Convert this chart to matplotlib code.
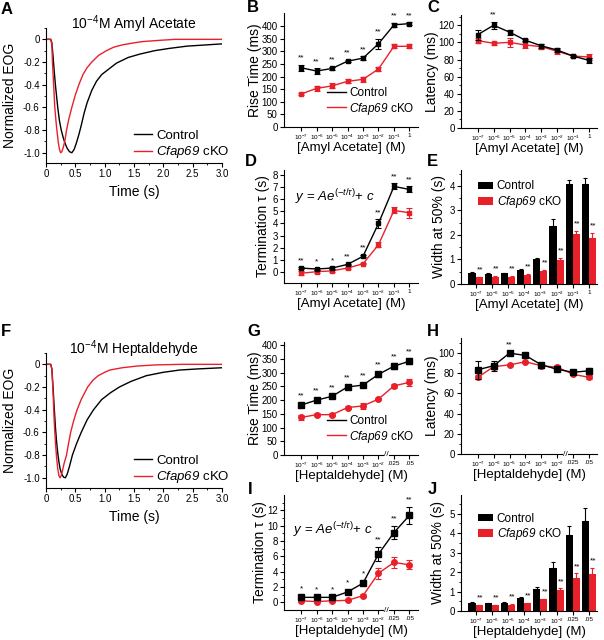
import numpy as np
import matplotlib
matplotlib.use('Agg')
import matplotlib.pyplot as plt
from matplotlib.lines import Line2D

plt.rcParams['font.family'] = ['Liberation Sans', 'DejaVu Sans']
plt.rcParams['mathtext.fontset'] = 'custom'
plt.rcParams['mathtext.rm'] = 'Liberation Sans'
plt.rcParams['mathtext.it'] = 'Liberation Sans:italic'
plt.rcParams['mathtext.sf'] = 'Liberation Sans:italic'
plt.rcParams['axes.unicode_minus'] = False
plt.rcParams['axes.linewidth'] = 0.8

RED = '#e8202a'

##### data #####

# A: EOG traces, 10^-4 M amyl acetate
tA_ctrl = [0, 0.08, 0.10, 0.12, 0.14, 0.16, 0.18, 0.20, 0.23, 0.26, 0.29, 0.32, 0.36, 0.40, 0.44, 0.48,
           0.52, 0.56, 0.60, 0.65, 0.70, 0.78, 0.86, 0.95, 1.05, 1.2, 1.4, 1.6, 1.85, 2.1, 2.4, 2.7, 3.0]
vA_ctrl = [0, 0, -0.03, -0.15, -0.28, -0.40, -0.50, -0.60, -0.72, -0.80, -0.86, -0.91, -0.96, -0.99, -1.0, -0.97,
           -0.91, -0.84, -0.76, -0.65, -0.56, -0.45, -0.37, -0.31, -0.27, -0.21, -0.16, -0.13, -0.10, -0.08, -0.06, -0.05, -0.04]
tA_cko = [0, 0.08, 0.10, 0.11, 0.13, 0.15, 0.17, 0.19, 0.21, 0.23, 0.25, 0.27, 0.29, 0.32, 0.35, 0.39,
          0.44, 0.50, 0.56, 0.63, 0.70, 0.78, 0.9, 1.03, 1.15, 1.29, 1.45, 1.64, 1.9, 2.2, 2.6, 3.0]
vA_cko = [0, 0, -0.05, -0.2, -0.4, -0.6, -0.72, -0.82, -0.91, -0.97, -1.0, -0.99, -0.96, -0.9, -0.8, -0.7,
          -0.6, -0.49, -0.4, -0.31, -0.25, -0.2, -0.14, -0.1, -0.07, -0.05, -0.035, -0.02, -0.01, 0, 0, 0]

# F: EOG traces, 10^-4 M heptaldehyde
tF_ctrl = [0, 0.08, 0.10, 0.12, 0.14, 0.16, 0.18, 0.20, 0.22, 0.24, 0.27, 0.30, 0.33, 0.36, 0.40, 0.45,
           0.52, 0.60, 0.70, 0.81, 0.95, 1.1, 1.25, 1.45, 1.71, 2.0, 2.28, 2.6, 3.0]
vF_ctrl = [0, 0, -0.04, -0.2, -0.38, -0.55, -0.68, -0.78, -0.86, -0.92, -0.97, -0.995, -1.0, -0.97, -0.9, -0.8,
           -0.7, -0.6, -0.49, -0.4, -0.31, -0.25, -0.2, -0.15, -0.1, -0.07, -0.05, -0.04, -0.03]
tF_cko = [0, 0.08, 0.10, 0.12, 0.14, 0.16, 0.18, 0.20, 0.22, 0.24, 0.26, 0.28, 0.31, 0.35, 0.38, 0.42,
          0.47, 0.53, 0.6, 0.71, 0.8, 0.89, 1.0, 1.09, 1.3, 1.55, 1.87, 2.3, 3.0]
vF_cko = [0, 0, -0.04, -0.25, -0.5, -0.68, -0.82, -0.92, -0.98, -1.0, -0.98, -0.94, -0.87, -0.8, -0.71, -0.6,
          -0.5, -0.4, -0.31, -0.2, -0.14, -0.1, -0.07, -0.05, -0.03, -0.015, -0.005, 0, 0]

amyl_labels = ['10$^{-7}$', '10$^{-6}$', '10$^{-5}$', '10$^{-4}$', '10$^{-3}$', '10$^{-2}$', '10$^{-1}$', '1']
hept_labels = ['10$^{-7}$', '10$^{-6}$', '10$^{-5}$', '10$^{-4}$', '10$^{-3}$', '10$^{-2}$', '.025', '.05']

# B: rise time (ms), amyl acetate
B_ctrl = [235, 222, 232, 261, 273, 330, 405, 410]
B_ctrl_err = [12, 10, 5, 5, 7, 20, 8, 5]
B_cko = [131, 153, 163, 181, 189, 230, 320, 320]
B_cko_err = [5, 10, 10, 8, 10, 6, 8, 8]
B_stars = ['**'] * 8

# C: latency (ms), amyl acetate
C_ctrl = [109, 120, 112, 102.5, 96, 91, 84, 79]
C_ctrl_err = [6, 4, 3, 1, 2, 2, 1, 3]
C_cko = [102, 99, 100, 97, 95, 89.6, 84, 83]
C_cko_err = [3, 2, 5, 3, 3, 3, 1, 3]
C_stars = ['', '**', '', '', '', '', '', '']

# D: termination tau (s), amyl acetate
D_ctrl = [0.33, 0.25, 0.33, 0.63, 1.3, 4.0, 7.05, 6.8]
D_ctrl_err = [0.05, 0.05, 0.05, 0.05, 0.1, 0.35, 0.25, 0.25]
D_cko = [-0.1, 0.03, 0.1, 0.33, 0.68, 2.25, 5.07, 4.88]
D_cko_err = [0.15, 0.1, 0.1, 0.05, 0.05, 0.2, 0.25, 0.4]
D_stars = ['**', '*', '*', '**', '**', '**', '**', '**']

# E: width at 50% (s), amyl acetate
E_ctrl = [0.45, 0.41, 0.43, 0.58, 1.01, 2.38, 4.07, 4.07]
E_ctrl_err = [0.02, 0.02, 0.02, 0.03, 0.05, 0.27, 0.18, 0.25]
E_cko = [0.27, 0.30, 0.30, 0.38, 0.54, 0.99, 2.04, 1.89]
E_cko_err = [0.02, 0.02, 0.02, 0.03, 0.03, 0.07, 0.13, 0.2]
E_stars = ['**'] * 8

# G: rise time (ms), heptaldehyde
G_ctrl = [182, 200, 214, 248, 255, 294, 324, 342]
G_ctrl_err = [8, 8, 5, 8, 8, 10, 10, 10]
G_cko = [137, 147, 147, 173, 179, 204, 252, 265]
G_cko_err = [8, 6, 6, 5, 10, 5, 8, 12]
G_stars = ['**'] * 8

# H: latency (ms), heptaldehyde
H_ctrl = [83.5, 87.5, 100, 97.7, 88.4, 84, 81, 82.5]
H_ctrl_err = [9, 5, 1.5, 1.5, 2, 2, 2, 3]
H_cko = [76, 86.5, 88.4, 91.4, 87.5, 86, 79, 76]
H_cko_err = [2, 2, 1, 1, 2, 2, 1, 2]
H_stars = ['', '', '**', '', '', '', '', '']

# I: termination tau (s), heptaldehyde
I_ctrl = [0.65, 0.65, 0.65, 1.35, 2.5, 6.3, 9.1, 11.35]
I_ctrl_err = [0.15, 0.1, 0.1, 0.3, 0.3, 0.9, 0.9, 1.1]
I_cko = [0.2, 0.1, 0.2, 0.26, 0.87, 3.8, 5.2, 4.9]
I_cko_err = [0.1, 0.1, 0.1, 0.1, 0.2, 0.7, 0.7, 0.6]
I_stars = ['*', '*', '*', '*', '*', '**', '**', '**']

# J: width at 50% (s), heptaldehyde
J_ctrl = [0.43, 0.40, 0.43, 0.67, 1.14, 2.23, 3.9, 4.62]
J_ctrl_err = [0.02, 0.02, 0.02, 0.05, 0.1, 0.27, 0.48, 0.68]
J_cko = [0.30, 0.30, 0.33, 0.40, 0.59, 1.06, 1.71, 1.92]
J_cko_err = [0.03, 0.03, 0.03, 0.03, 0.04, 0.1, 0.22, 0.3]
J_stars = ['**'] * 8

CKO_LABEL = r'$\mathsf{Cfap69}$ cKO'
EQUATION = r'$y$ = $Ae^{(-t/\tau)}$+ $c$'

##### figure #####
W, H = 604, 640
fig = plt.figure(figsize=(W / 100, H / 100), dpi=100)


def box(l, r, t, b):
    return [l / W, 1 - b / H, (r - l) / W, (b - t) / H]


def style(ax):
    ax.spines['top'].set_visible(False)
    ax.spines['right'].set_visible(False)
    ax.tick_params(which='major', direction='out', length=3, width=0.8, labelsize=7, pad=1.5)
    ax.tick_params(which='minor', direction='out', length=1.5, width=0.6)


def letter(x, y, s):
    fig.text(x / W, 1 - y / H, s, fontsize=12, fontweight='bold', ha='left', va='center')


def line_handles():
    return [Line2D([], [], color='k', lw=1), Line2D([], [], color=RED, lw=1)]


def set_xlab(ax, text, px_below):
    # px_below: gap in pixels between the axis line and the label's top
    h = ax.get_position().height * H
    ax.set_xlabel(text, fontsize=9.5)
    ax.xaxis.set_label_coords(0.5, -px_below / h)


def trace_panel(rect, tc, vc, tk, vk, title, ylab_x):
    ax = fig.add_axes(box(*rect))
    style(ax)
    ax.plot(tc, vc, color='k', lw=1)
    ax.plot(tk, vk, color=RED, lw=1)
    ax.set_xlim(0, 3.0)
    ax.set_ylim(-1.09, 0.1)
    ax.set_xticks(np.arange(0, 3.01, 0.5))
    ax.set_xticklabels(['0', '0.5', '1.0', '1.5', '2.0', '2.5', '3.0'])
    ax.set_xticks(np.arange(0.25, 3.0, 0.5), minor=True)
    ax.set_yticks([0, -0.2, -0.4, -0.6, -0.8, -1.0])
    ax.set_yticklabels(['0', '-0.2', '-0.4', '-0.6', '-0.8', '-1.0'])
    ax.set_yticks([0.1, -0.1, -0.3, -0.5, -0.7, -0.9], minor=True)
    ax.set_ylabel('Normalized EOG', fontsize=10)
    ax.yaxis.set_label_coords(ylab_x, 0.5)
    ax.set_xlabel('Time (s)', fontsize=10)
    ax.xaxis.set_label_coords(0.5, -22 / 135)
    ax.text(0.5, 1.03, title, transform=ax.transAxes, ha='center', va='center', fontsize=10)
    ax.legend(line_handles(), ['Control', CKO_LABEL], loc='lower right', bbox_to_anchor=(1.08, -0.03),
              frameon=False, fontsize=9.5, handlelength=1.4, handletextpad=0.3, labelspacing=0.2, borderpad=0)
    return ax


def line_panel(rect, ctrl, cerr, cko, kerr, stars, ylim, yticks, yminor, ylabel, xlabels,
               ylab_x, big=False, brk=False, legend=False, xlim=(-1.1, 7.55)):
    ax = fig.add_axes(box(*rect))
    style(ax)
    x = np.arange(len(xlabels))
    if big:
        mc, mk, ms = 's', 'o', 4
    else:
        mc, mk, ms = 's', 's', 2.5
    ax.errorbar(x, ctrl, yerr=cerr, color='k', marker=mc, ms=ms, lw=1, elinewidth=0.8,
                capsize=2, capthick=0.8, zorder=3)
    ax.errorbar(x, cko, yerr=kerr, color=RED, marker=mk, ms=ms, lw=1, elinewidth=0.8,
                capsize=2, capthick=0.8, zorder=2)
    rng = ylim[1] - ylim[0]
    for xi, s, c, e in zip(x, stars, ctrl, cerr):
        if s:
            ax.text(xi, c + e + 0.06 * rng, s, ha='center', va='center', fontsize=6)
    ax.set_xlim(*xlim)
    ax.set_ylim(*ylim)
    ax.set_xticks(x)
    ax.set_xticklabels(xlabels, fontsize=4.6)
    ax.tick_params(axis='x', pad=1)
    ax.set_yticks(yticks)
    if yminor is not None:
        ax.set_yticks(yminor, minor=True)
    ax.set_ylabel(ylabel, fontsize=10)
    ax.yaxis.set_label_coords(ylab_x, 0.5)
    if brk:
        ax.text(5.5, 0, '//', transform=ax.get_xaxis_transform(), ha='center', va='center',
                fontsize=6, bbox=dict(facecolor='white', edgecolor='none', pad=0))
    if legend:
        ax.legend(line_handles(), ['Control', CKO_LABEL], loc='lower right', bbox_to_anchor=(1.02, 0.04),
                  frameon=False, fontsize=8.5, handlelength=1.6, handletextpad=0.3, labelspacing=0.15,
                  borderpad=0)
    return ax


def bar_panel(rect, ctrl, cerr, cko, kerr, stars, ylim, yticks, yminor, xlabels, ylab_x, leg_y):
    ax = fig.add_axes(box(*rect))
    style(ax)
    x = np.arange(len(xlabels))
    w = 0.44
    ax.bar(x - w / 2, ctrl, w, color='k', label='Control',
           yerr=[np.zeros(len(x)), cerr], error_kw=dict(ecolor='k', elinewidth=0.8, capsize=1.5, capthick=0.8))
    ax.bar(x + w / 2, cko, w, color=RED, label=CKO_LABEL,
           yerr=[np.zeros(len(x)), kerr], error_kw=dict(ecolor=RED, elinewidth=0.8, capsize=1.5, capthick=0.8))
    rng = ylim[1] - ylim[0]
    for xi, s, c, e in zip(x, stars, cko, kerr):
        ax.text(xi + w / 2 + 0.05, c + e + 0.06 * rng, s, ha='center', va='center', fontsize=6)
    ax.set_xlim(-0.9, 7.5)
    ax.set_ylim(*ylim)
    ax.set_xticks(x)
    ax.set_xticklabels(xlabels, fontsize=4.6)
    ax.tick_params(axis='x', pad=1)
    ax.set_yticks(yticks)
    ax.set_yticks(yminor, minor=True)
    ax.set_ylabel('Width at 50% (s)', fontsize=10)
    ax.yaxis.set_label_coords(ylab_x, 0.5)
    ax.legend(loc='upper left', bbox_to_anchor=(0.08, leg_y), frameon=False, fontsize=8.5,
              handlelength=1.3, handleheight=0.6, handletextpad=0.3, labelspacing=0.15, borderpad=0)
    return ax


# ---- Amyl acetate row ----
trace_panel((46, 222, 28, 163), tA_ctrl, vA_ctrl, tA_cko, vA_cko, '10$^{-4}$M Amyl Acetate', -0.165)

axB = line_panel((284, 418, 13, 127), B_ctrl, B_ctrl_err, B_cko, B_cko_err, B_stars,
                 (0, 452), np.arange(0, 401, 50), None, 'Rise Time (ms)', amyl_labels,
                 -0.164, legend=True)
set_xlab(axB, '[Amyl Acetate] (M)', 15)

axC = line_panel((461, 597, 15, 128), C_ctrl, C_ctrl_err, C_cko, C_cko_err, C_stars,
                 (0, 132), np.arange(0, 121, 20), np.arange(10, 131, 20), 'Latency (ms)', amyl_labels,
                 -0.16, xlim=(-1.05, 7.5))
set_xlab(axC, '[Amyl Acetate] (M)', 15)

axD = line_panel((284, 418, 170, 283), D_ctrl, D_ctrl_err, D_cko, D_cko_err, D_stars,
                 (-0.9, 8.4), np.arange(0, 9, 1), None, 'Termination τ (s)', amyl_labels, -0.105)
set_xlab(axD, '[Amyl Acetate] (M)', 15)
axD.text(0.08, 0.76, EQUATION, transform=axD.transAxes, ha='left', va='center', fontsize=9.5)

axE = bar_panel((461, 597, 170, 284), E_ctrl, E_ctrl_err, E_cko, E_cko_err, E_stars,
                (0, 4.65), np.arange(0, 5, 1), np.arange(0.5, 4.6, 1), amyl_labels, -0.11, 0.96)
set_xlab(axE, '[Amyl Acetate] (M)', 15)

# ---- Heptaldehyde row ----
trace_panel((46, 222, 353, 488), tF_ctrl, vF_ctrl, tF_cko, vF_cko, '10$^{-4}$M Heptaldehyde', -0.165)

axG = line_panel((284, 418, 342, 455), G_ctrl, G_ctrl_err, G_cko, G_cko_err, G_stars,
                 (0, 412), np.arange(0, 401, 50), None, 'Rise Time (ms)', hept_labels,
                 -0.164, big=True, brk=True, legend=True)
set_xlab(axG, '[Heptaldehyde] (M)', 15)

axH = line_panel((461, 597, 338, 454), H_ctrl, H_ctrl_err, H_cko, H_cko_err, H_stars,
                 (0, 115), np.arange(0, 101, 20), np.arange(10, 111, 20), 'Latency (ms)', hept_labels,
                 -0.16, big=True, brk=True, xlim=(-1.05, 7.5))
set_xlab(axH, '[Heptaldehyde] (M)', 15)

axI = line_panel((284, 418, 495, 610), I_ctrl, I_ctrl_err, I_cko, I_cko_err, I_stars,
                 (-1, 14), np.arange(0, 13, 2), np.arange(1, 14, 2), 'Termination τ (s)', hept_labels,
                 -0.13, big=True, brk=True)
set_xlab(axI, '[Heptaldehyde] (M)', 15)
axI.text(0.07, 0.69, EQUATION, transform=axI.transAxes, ha='left', va='center', fontsize=9.5)

axJ = bar_panel((461, 597, 495, 611), J_ctrl, J_ctrl_err, J_cko, J_cko_err, J_stars,
                (0, 5.95), np.arange(0, 6, 1), np.arange(0.5, 5.9, 1), hept_labels, -0.12, 0.9)
set_xlab(axJ, '[Heptaldehyde] (M)', 15)

for s, x, y in [('A', 1, 10), ('B', 247, 8), ('C', 427, 8), ('D', 245, 162), ('E', 427, 162),
                ('F', 1, 331), ('G', 247, 332), ('H', 427, 332), ('I', 248, 489), ('J', 428, 489)]:
    letter(x, y, s)

fig.savefig('out.png', dpi=100)
